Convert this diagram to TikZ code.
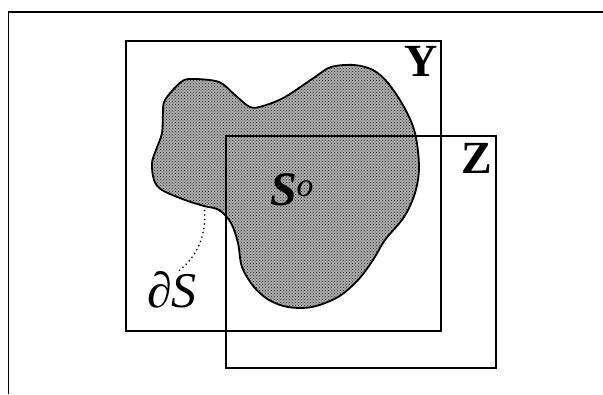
\documentclass[tikz,border=0pt]{standalone}
\usepackage{fontspec}
\setmainfont{Liberation Serif}
\usepackage{tikz}
\usetikzlibrary{positioning,patterns}

\begin{document}
\begin{tikzpicture}[
  x=1pt, y=-1pt,
  region/.style={draw, line width=1.2pt, inner sep=0pt},
  blob/.style={draw, line width=1.8pt, preaction={fill=black!32}, pattern=crosshatch dots, pattern color=black!85},
  setlabel/.style={font=\fontsize{46}{48}\selectfont\bfseries, inner sep=0pt},
  bdlabel/.style={font=\fontsize{50}{52}\selectfont, inner sep=0pt},
  leader/.style={line width=1.8pt, line cap=round, dash pattern=on 0pt off 4.5pt}
]
\useasboundingbox (0,0) rectangle (603,394);

% open outer frame
\draw[line width=1.8pt] (8.5,394) -- (8.5,12) -- (603,12);

% the set S
\draw[blob] plot[smooth cycle, tension=0.55] coordinates {
  (165,100) (181,82) (193,79) (219,82) (235,95) (250,107) (263,106)
  (285,97) (315,77) (331,67) (354,65) (373,70) (388,83) (404,107)
  (415,133) (419,167) (415,193) (404,217) (385,240) (373,260)
  (358,280) (338,297) (312,307) (288,307) (269,300) (254,287)
  (242,267) (238,243) (231,223) (219,210) (204,206) (185,200)
  (162,190) (154,180) (152,163) (156,150) (162,133) (163,113)};
\coordinate (bd) at (204,206);

% the two regions
\node[region, minimum width=315pt, minimum height=290pt] (Y) at (283.5,186) {};
\node[region, minimum width=270pt, minimum height=232pt] (Z) at (361,252) {};

% labels
\node[setlabel] (Ylab) at (421,61) {Y};
\node[setlabel] (Zlab) at (477,158) {Z};
\node[setlabel, font=\fontsize{48}{50}\selectfont\bfseries\itshape] (Sint) at (292,190) {S\textsuperscript{\normalfont\itshape o}};
\node[bdlabel] (dS) at (172,290) {∂\textit{S}};

\draw[leader] (bd) .. controls (208,235) and (196,258) .. ([xshift=6pt]dS.north);
\end{tikzpicture}
\end{document}
